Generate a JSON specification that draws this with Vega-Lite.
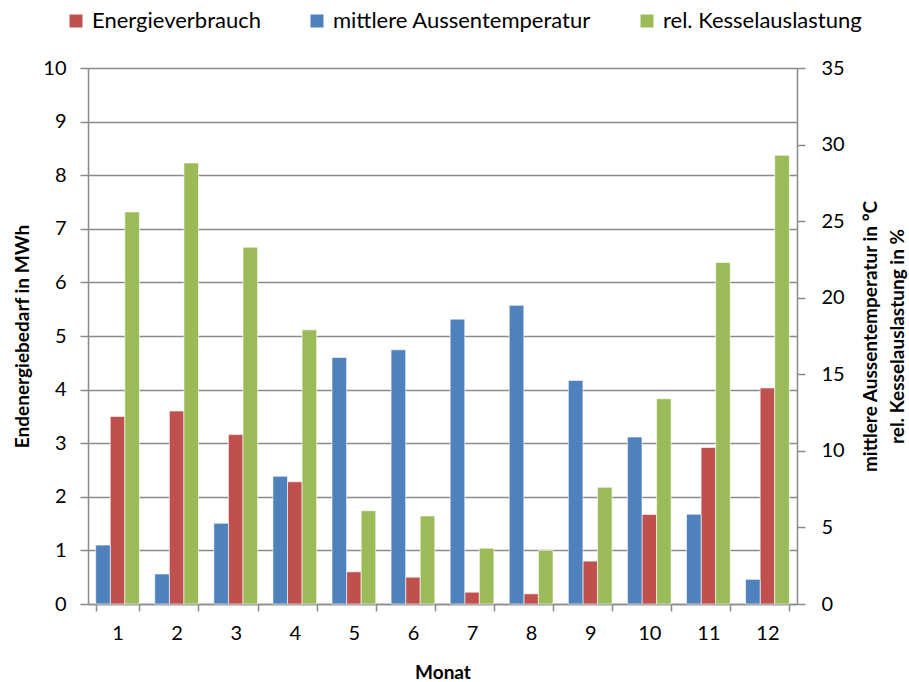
{
  "$schema": "https://vega.github.io/schema/vega-lite/v6.json",
  "width": 709,
  "height": 536,
  "autosize": "none",
  "padding": {"left": 88, "top": 68, "right": 112, "bottom": 78},
  "background": "white",
  "config": {
    "font": "Lato",
    "view": {"stroke": null},
    "axis": {
      "domainColor": "#8a8a8a",
      "domainWidth": 1.5,
      "tickColor": "#8a8a8a",
      "tickWidth": 1.5,
      "gridColor": "#8a8a8a",
      "gridWidth": 1.5,
      "labelColor": "#000000",
      "labelFontSize": 20,
      "titleColor": "#000000",
      "titleFontSize": 19,
      "titleFontWeight": "bold"
    }
  },
  "data": {
    "values": [
      {"monat": 1, "serie": "Energieverbrauch", "wert": 3.50},
      {"monat": 2, "serie": "Energieverbrauch", "wert": 3.60},
      {"monat": 3, "serie": "Energieverbrauch", "wert": 3.16},
      {"monat": 4, "serie": "Energieverbrauch", "wert": 2.28},
      {"monat": 5, "serie": "Energieverbrauch", "wert": 0.60},
      {"monat": 6, "serie": "Energieverbrauch", "wert": 0.50},
      {"monat": 7, "serie": "Energieverbrauch", "wert": 0.22},
      {"monat": 8, "serie": "Energieverbrauch", "wert": 0.19},
      {"monat": 9, "serie": "Energieverbrauch", "wert": 0.80},
      {"monat": 10, "serie": "Energieverbrauch", "wert": 1.67},
      {"monat": 11, "serie": "Energieverbrauch", "wert": 2.92},
      {"monat": 12, "serie": "Energieverbrauch", "wert": 4.03},
      {"monat": 1, "serie": "mittlere Aussentemperatur", "wert": 3.85},
      {"monat": 2, "serie": "mittlere Aussentemperatur", "wert": 1.96},
      {"monat": 3, "serie": "mittlere Aussentemperatur", "wert": 5.27},
      {"monat": 4, "serie": "mittlere Aussentemperatur", "wert": 8.34},
      {"monat": 5, "serie": "mittlere Aussentemperatur", "wert": 16.1},
      {"monat": 6, "serie": "mittlere Aussentemperatur", "wert": 16.6},
      {"monat": 7, "serie": "mittlere Aussentemperatur", "wert": 18.6},
      {"monat": 8, "serie": "mittlere Aussentemperatur", "wert": 19.5},
      {"monat": 9, "serie": "mittlere Aussentemperatur", "wert": 14.6},
      {"monat": 10, "serie": "mittlere Aussentemperatur", "wert": 10.9},
      {"monat": 11, "serie": "mittlere Aussentemperatur", "wert": 5.86},
      {"monat": 12, "serie": "mittlere Aussentemperatur", "wert": 1.61},
      {"monat": 1, "serie": "rel. Kesselauslastung", "wert": 25.6},
      {"monat": 2, "serie": "rel. Kesselauslastung", "wert": 28.8},
      {"monat": 3, "serie": "rel. Kesselauslastung", "wert": 23.3},
      {"monat": 4, "serie": "rel. Kesselauslastung", "wert": 17.9},
      {"monat": 5, "serie": "rel. Kesselauslastung", "wert": 6.09},
      {"monat": 6, "serie": "rel. Kesselauslastung", "wert": 5.75},
      {"monat": 7, "serie": "rel. Kesselauslastung", "wert": 3.64},
      {"monat": 8, "serie": "rel. Kesselauslastung", "wert": 3.5},
      {"monat": 9, "serie": "rel. Kesselauslastung", "wert": 7.62},
      {"monat": 10, "serie": "rel. Kesselauslastung", "wert": 13.4},
      {"monat": 11, "serie": "rel. Kesselauslastung", "wert": 22.3},
      {"monat": 12, "serie": "rel. Kesselauslastung", "wert": 29.3}
    ]
  },
  "encoding": {
    "x": {
      "field": "monat",
      "type": "ordinal",
      "scale": {"paddingInner": 0.26, "paddingOuter": 0.13},
      "axis": {
        "title": "Monat",
        "labelAngle": 0,
        "tickBand": "extent",
        "tickSize": 7,
        "labelPadding": 12,
        "titleY": 68,
        "titleBaseline": "middle"
      }
    },
    "xOffset": {
      "field": "serie",
      "type": "nominal",
      "scale": {
        "domain": ["mittlere Aussentemperatur", "Energieverbrauch", "rel. Kesselauslastung"],
        "paddingInner": 0,
        "paddingOuter": 0
      }
    },
    "color": {
      "field": "serie",
      "type": "nominal",
      "scale": {
        "domain": ["Energieverbrauch", "mittlere Aussentemperatur", "rel. Kesselauslastung"],
        "range": ["#C0504D", "#4F81BD", "#9BBB59"]
      },
      "legend": {
        "title": null,
        "orient": "none",
        "direction": "horizontal",
        "legendX": -23,
        "legendY": -58,
        "symbolType": "square",
        "symbolSize": 169,
        "symbolStrokeWidth": 0,
        "symbolOpacity": 1,
        "labelFontSize": 22,
        "labelColor": "#000000",
        "labelOffset": 5,
        "labelLimit": 0,
        "columnPadding": 45
      }
    }
  },
  "layer": [
    {
      "transform": [{"filter": "datum.serie === 'Energieverbrauch'"}],
      "mark": {"type": "bar", "stroke": "#ffffff", "strokeWidth": 0.6},
      "encoding": {
        "y": {
          "field": "wert",
          "type": "quantitative",
          "scale": {"domain": [0, 10], "nice": false},
          "axis": {
            "title": "Endenergiebedarf in MWh",
            "values": [0, 1, 2, 3, 4, 5, 6, 7, 8, 9, 10],
            "grid": true,
            "tickSize": 8,
            "labelPadding": 14,
            "titleX": -66,
            "titleY": 268,
            "titleBaseline": "middle"
          }
        }
      }
    },
    {
      "transform": [{"filter": "datum.serie !== 'Energieverbrauch'"}],
      "mark": {"type": "bar", "stroke": "#ffffff", "strokeWidth": 0.6},
      "encoding": {
        "y": {
          "field": "wert",
          "type": "quantitative",
          "scale": {"domain": [0, 35], "nice": false},
          "axis": {
            "orient": "right",
            "title": ["mittlere Aussentemperatur in °C", "rel. Kesselauslastung  in %"],
            "values": [0, 5, 10, 15, 20, 25, 30, 35],
            "grid": false,
            "tickSize": 8,
            "labelPadding": 16,
            "titleAngle": 270,
            "titleX": 73,
            "titleY": 268,
            "titleBaseline": "middle",
            "titleAlign": "center",
            "titleLineHeight": 27
          }
        }
      }
    }
  ],
  "resolve": {"scale": {"y": "independent"}, "axis": {"y": "independent"}}
}
